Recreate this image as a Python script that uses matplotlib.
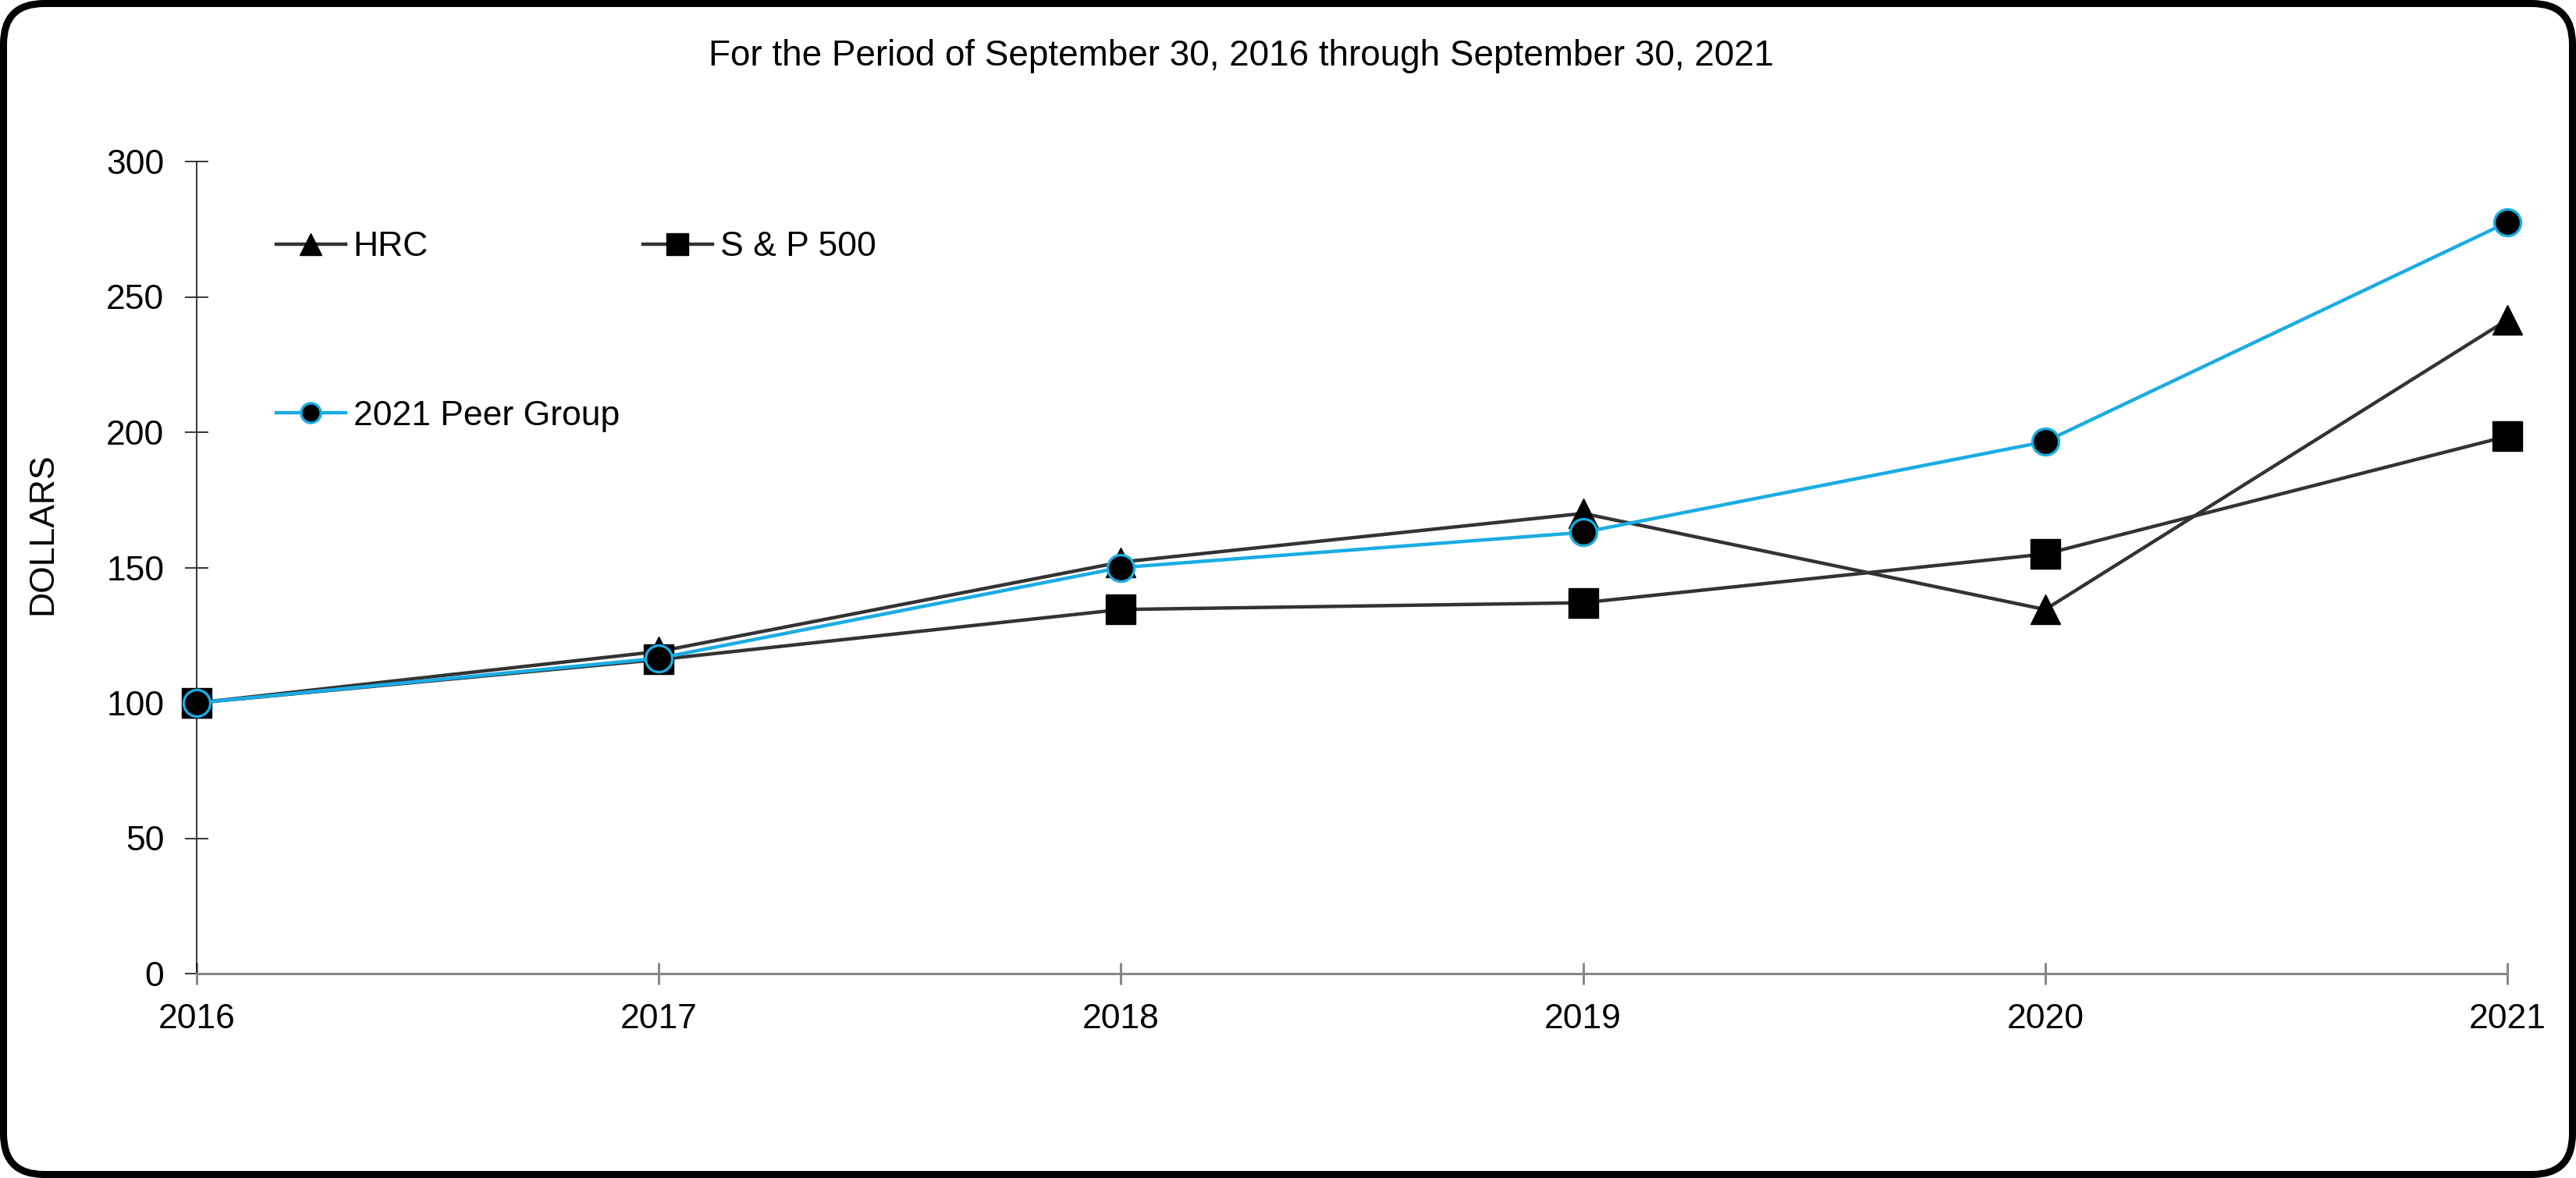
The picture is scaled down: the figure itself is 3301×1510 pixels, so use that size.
import matplotlib
matplotlib.use("Agg")
import matplotlib.pyplot as plt
import matplotlib.patches as mpatches
from matplotlib.transforms import IdentityTransform

years = [2016, 2017, 2018, 2019, 2020, 2021]
hrc = [100, 119, 152, 170, 134.5, 241.5]
sp500 = [100, 116, 134.5, 137, 155, 198.5]
peer = [100, 116.5, 150, 163, 196.5, 277.5]
series_names = ["HRC", "S & P 500", "2021 Peer Group"]
yticks = [0, 50, 100, 150, 200, 250, 300]
title = "For the Period of September 30, 2016 through September 30, 2021"
ylabel = "DOLLARS"

plt.rcParams['font.family'] = ['Liberation Sans', 'DejaVu Sans']
FS = 32

W, H = 3301, 1510
fig = plt.figure(figsize=(W / 100, H / 100), dpi=100)
ax = fig.add_axes([252 / W, 1 - 1248 / H, (3213 - 252) / W, (1248 - 207) / H])

dark = '#333333'
cyan = '#1AACE3'

l1, = ax.plot(years, hrc, color=dark, lw=3.2, marker='^', ms=27, mfc='black', mec='black', mew=1,
              zorder=3, clip_on=False)
l2, = ax.plot(years, sp500, color=dark, lw=3.2, marker='s', ms=27, mfc='black', mec='black', mew=1,
              zorder=4, clip_on=False)
l3, = ax.plot(years, peer, color=cyan, lw=3.2, marker='o', ms=24.5, mfc='black', mec=cyan, mew=2.4,
              zorder=5, clip_on=False)

ax.set_xlim(2016, 2021)
ax.set_ylim(0, 300)
ax.set_xticks(years)
ax.set_xticklabels([str(y) for y in years])
ax.set_yticks(yticks)
ax.set_yticklabels([str(v) for v in yticks])

for s in ['top', 'right']:
    ax.spines[s].set_visible(False)
ax.spines['left'].set_color('black')
ax.spines['left'].set_linewidth(1.1)
ax.spines['bottom'].set_color('#888888')
ax.spines['bottom'].set_linewidth(2.2)
ax.spines['bottom'].set_zorder(2.5)

ax.tick_params(axis='y', direction='inout', length=21, width=1.1, color='black', pad=19.5,
               labelsize=FS, labelcolor='black')
ax.tick_params(axis='x', direction='inout', length=20, width=2.2, color='#888888', pad=17,
               labelsize=FS, labelcolor='black')

fig.text(1591 / W, 1 - 84 / H, title, ha='center', va='baseline', fontsize=33)
fig.text(55 / W, 1 - 684 / H, ylabel, ha='center', va='center', rotation=90, fontsize=FS)

def add_leg(line, label, x, y):
    leg = fig.legend([line], [label], loc='center left', bbox_to_anchor=(x / W, 1 - y / H),
                     bbox_transform=fig.transFigure, frameon=False, fontsize=FS, numpoints=1,
                     handlelength=2.0, handletextpad=0.22, borderpad=0, borderaxespad=0,
                     markerscale=0.74)
    return leg

add_leg(l1, series_names[0], 354, 317)
add_leg(l2, series_names[1], 824, 317)
add_leg(l3, series_names[2], 354, 533)

frame = mpatches.FancyBboxPatch((4.5, 4.5), W - 9, H - 9,
                                boxstyle="round,pad=0,rounding_size=52",
                                transform=IdentityTransform(), lw=6.5,
                                ec='black', fc='none', zorder=10)
fig.add_artist(frame)

fig.savefig('out.png', dpi=100)
